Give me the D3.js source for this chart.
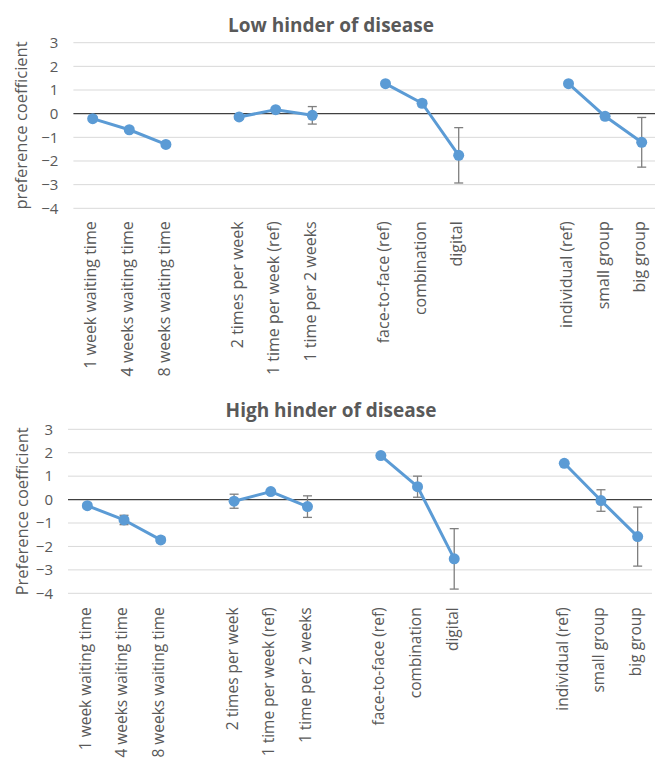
<!DOCTYPE html>
<html>
<head>
<meta charset="utf-8">
<script src="https://cdn.jsdelivr.net/npm/d3@7"></script>
<style>
  html, body { margin: 0; padding: 0; background: #fff; }
  svg { display: block; }
  text { font-family: "Open Sans", "Liberation Sans", sans-serif; fill: #595959; }
</style>
</head>
<body>
<script>
// ---- Data ----
const categories = [
  "1 week waiting time", "4 weeks waiting time", "8 weeks waiting time", "",
  "2 times per week", "1 time per week (ref)", "1 time per 2 weeks", "",
  "face-to-face (ref)", "combination", "digital", "", "",
  "individual (ref)", "small group", "big group"
];
const groups = [0, 0, 0, null, 1, 1, 1, null, 2, 2, 2, null, null, 3, 3, 3];

const lowValues  = [-0.21, -0.68, -1.30, null, -0.14, 0.17, -0.07, null, 1.27, 0.44, -1.76, null, null, 1.27, -0.11, -1.21];
const lowErrors  = [0.08, 0.08, 0.08, null, 0.1, 0, 0.37, null, 0, 0.12, 1.17, null, null, 0, 0.12, 1.05];
const highValues = [-0.26, -0.87, -1.72, null, -0.07, 0.34, -0.30, null, 1.88, 0.55, -2.53, null, null, 1.55, -0.04, -1.58];
const highErrors = [0.1, 0.2, 0.12, null, 0.3, 0, 0.46, null, 0, 0.45, 1.29, null, null, 0, 0.46, 1.26];

const yTicks = [3, 2, 1, 0, -1, -2, -3, -4];
const titles = ["Low hinder of disease", "High hinder of disease"];
const yTitles = ["preference coefficient", "Preference coefficient"];

// ---- Layout ----
const W = 657, H = 759;
const svg = d3.select("body").append("svg").attr("width", W).attr("height", H);

const panels = [
  { values: lowValues, errors: lowErrors, title: titles[0], yTitle: yTitles[0],
    x0: 74.4, x1: 660, gx1: 655, yTop: 42.7, yBot: 208.3, titleY: 32, labelOff: 13, labelSize: 16, yTitleX: 21 },
  { values: highValues, errors: highErrors, title: titles[1], yTitle: yTitles[1],
    x0: 69, x1: 656, gx1: 652, yTop: 429.3, yBot: 593.3, titleY: 417, labelOff: 14, labelSize: 15.5, yTitleX: 22 }
];

const lineColor = "#5b9bd5";

panels.forEach(p => {
  const g = svg.append("g");
  const x = d3.scaleBand().domain(d3.range(categories.length)).range([p.x0, p.x1]);
  const y = d3.scaleLinear().domain([-4, 3]).range([p.yBot, p.yTop]);
  const cx = i => x(i) + x.bandwidth() / 2;

  // gridlines
  g.append("g").selectAll("line").data(yTicks.filter(t => t !== 0)).join("line")
    .attr("x1", p.x0 - 1).attr("x2", p.gx1)
    .attr("y1", d => y(d)).attr("y2", d => y(d))
    .attr("stroke", "#d9d9d9").attr("stroke-width", 1);

  // y axis labels
  const ya = g.append("g").attr("transform", `translate(${p.x0 - 16},0)`)
    .call(d3.axisLeft(y).tickValues(yTicks).tickSize(0).tickFormat(d3.format("d")));
  ya.select(".domain").remove();
  ya.selectAll("text").attr("font-size", 15).attr("x", 0).style("fill", "#595959")
    .style("font-family", "'Open Sans', sans-serif");

  // zero line
  g.append("line").attr("x1", p.x0 - 1).attr("x2", p.gx1)
    .attr("y1", y(0)).attr("y2", y(0))
    .attr("stroke", "#404040").attr("stroke-width", 1.4);

  // x axis labels (rotated)
  const xa = g.append("g").attr("transform", `translate(0,${p.yBot})`)
    .call(d3.axisBottom(x).tickSize(0).tickFormat(i => categories[i]));
  xa.select(".domain").remove();
  xa.selectAll("text")
    .attr("font-size", p.labelSize)
    .style("fill", "#595959")
    .style("font-family", "'Open Sans', sans-serif")
    .attr("text-anchor", "end")
    .attr("transform", `translate(-2,${p.labelOff}) rotate(-90)`)
    .attr("x", 0).attr("y", 0).attr("dy", "0.35em");

  // error bars
  const idx = d3.range(categories.length).filter(i => p.values[i] !== null && p.errors[i] > 0);
  const eb = g.append("g").attr("stroke", "#7f7f7f").attr("stroke-width", 1.3);
  idx.forEach(i => {
    const v = p.values[i], e = p.errors[i], xc = cx(i);
    eb.append("line").attr("x1", xc).attr("x2", xc).attr("y1", y(v + e)).attr("y2", y(v - e));
    eb.append("line").attr("x1", xc - 4.5).attr("x2", xc + 4.5).attr("y1", y(v + e)).attr("y2", y(v + e));
    eb.append("line").attr("x1", xc - 4.5).attr("x2", xc + 4.5).attr("y1", y(v - e)).attr("y2", y(v - e));
  });

  // lines per group
  const line = d3.line().x(i => cx(i)).y(i => y(p.values[i]));
  [0, 1, 2, 3].forEach(gi => {
    const pts = d3.range(categories.length).filter(i => groups[i] === gi);
    g.append("path").attr("d", line(pts)).attr("fill", "none")
      .attr("stroke", lineColor).attr("stroke-width", 3).attr("stroke-linejoin", "round");
  });

  // markers
  g.append("g").selectAll("circle")
    .data(d3.range(categories.length).filter(i => p.values[i] !== null)).join("circle")
    .attr("cx", i => cx(i)).attr("cy", i => y(p.values[i])).attr("r", 5.5)
    .attr("fill", lineColor);

  // title
  g.append("text").attr("x", 331).attr("y", p.titleY).attr("text-anchor", "middle")
    .attr("font-size", 19).attr("font-weight", "bold").text(p.title);

  // y title
  g.append("text").attr("transform", `translate(${p.yTitleX},${(p.yTop + p.yBot) / 2}) rotate(-90)`)
    .attr("text-anchor", "middle").attr("dy", "0.35em").attr("font-size", 16.5)
    .text(p.yTitle);
});
</script>
</body>
</html>
